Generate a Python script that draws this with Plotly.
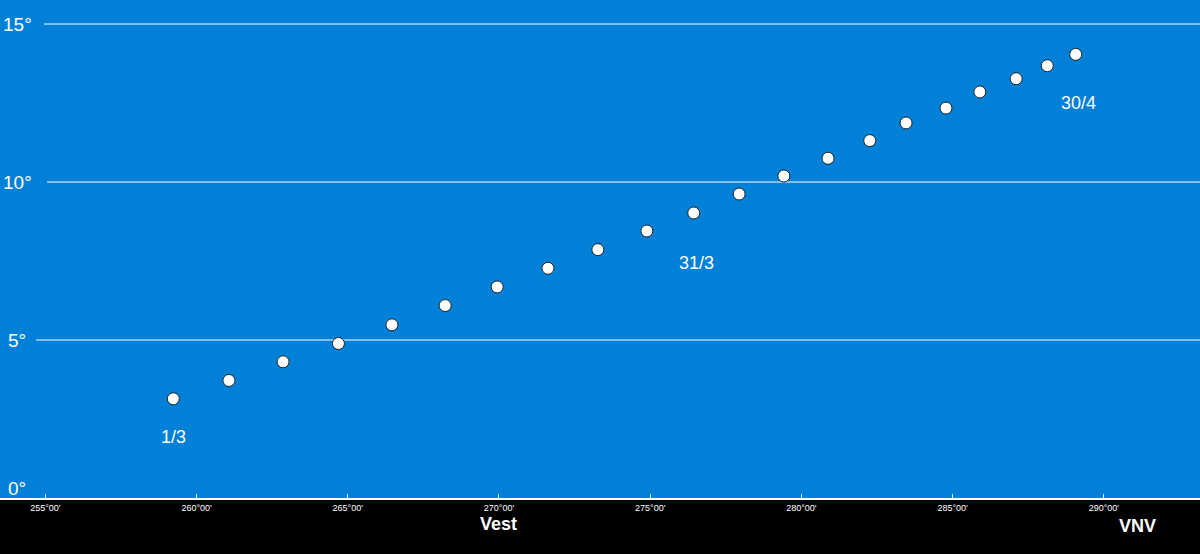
import plotly.graph_objects as go

# --- data ---
lon = [259.23, 261.07, 262.86, 264.69, 266.46, 268.22, 269.94, 271.62, 273.27, 274.89,
       276.44, 277.94, 279.42, 280.88, 282.26, 283.46, 284.78, 285.90, 287.10, 288.13, 289.07]
alt = [3.14, 3.72, 4.31, 4.89, 5.48, 6.09, 6.68, 7.27, 7.86, 8.45,
       9.02, 9.62, 10.19, 10.75, 11.31, 11.87, 12.34, 12.85, 13.27, 13.68, 14.04]
date_labels = ["1/3", "31/3", "30/4"]
date_index = [0, 10, 20]
x_tickvals = [255, 260, 265, 270, 275, 280, 285, 290]
x_ticktext = ["255°00'", "260°00'", "265°00'", "270°00'", "275°00'", "280°00'", "285°00'", "290°00'"]
y_tickvals = [0, 5, 10, 15]
y_ticktext = ["0°", "5°", "10°", "15°"]
directions = ["Vest", "VNV"]
direction_lon = [270.0, 291.1]

# --- layout helpers (positions, not data) ---
W, H = 1200, 554
BLUE = "#0180d8"
label_shift = [(0, -38), (3, -50), (3, -49)]
grid_start_px = {5: 36, 10: 47, 15: 44}

fig = go.Figure()
fig.add_trace(go.Scatter(
    x=lon, y=alt, mode="markers",
    marker=dict(size=12, color="white", line=dict(color="#222222", width=1)),
    hoverinfo="skip", showlegend=False, cliponaxis=False,
))

annotations = []
for lbl, idx, (dx, dy) in zip(date_labels, date_index, label_shift):
    annotations.append(dict(
        x=lon[idx], y=alt[idx], xref="x", yref="y", text=lbl, showarrow=False,
        xshift=dx, yshift=dy, font=dict(family="Liberation Sans", size=18, color="white"),
    ))

for v, t in zip(y_tickvals, y_ticktext):
    annotations.append(dict(
        x=17 / W, y=v, xref="paper", yref="y", text=t, showarrow=False,
        xanchor="center", yanchor="middle", yshift=10 if v == 0 else 0,
        font=dict(family="Liberation Sans", size=19, color="white"),
    ))

for d, dl in zip(directions, direction_lon):
    annotations.append(dict(
        x=dl, y=0, xref="x", yref="y", text="<b>%s</b>" % d, showarrow=False,
        yanchor="middle", yshift=-26 if d == "Vest" else -28,
        font=dict(family="Liberation Sans", size=18, color="white"),
    ))

shapes = []
for v in y_tickvals:
    if v in grid_start_px:
        shapes.append(dict(
            type="line", xref="paper", yref="y", x0=grid_start_px[v] / W, x1=1,
            y0=v, y1=v, line=dict(color="white", width=1), layer="below",
        ))

fig.update_layout(
    width=W, height=H,
    margin=dict(l=0, r=0, t=0, b=56, pad=0),
    paper_bgcolor="black", plot_bgcolor=BLUE,
    annotations=annotations, shapes=shapes,
    xaxis=dict(
        range=[253.50, 293.18], tickvals=x_tickvals, ticktext=x_ticktext,
        showgrid=False, zeroline=False, showline=True, linecolor="white", linewidth=2,
        ticks="inside", ticklen=4, tickcolor="white", tickwidth=1,
        tickfont=dict(family="Liberation Sans", size=9, color="white"),
        fixedrange=True,
    ),
    yaxis=dict(
        range=[0, 15.76], showgrid=False, zeroline=False, showticklabels=False,
        showline=False, fixedrange=True,
    ),
)

fig.write_html(
    "out.html",
    config={"displayModeBar": False},
    post_script="document.body.style.margin='0';document.body.style.background='black';",
)
